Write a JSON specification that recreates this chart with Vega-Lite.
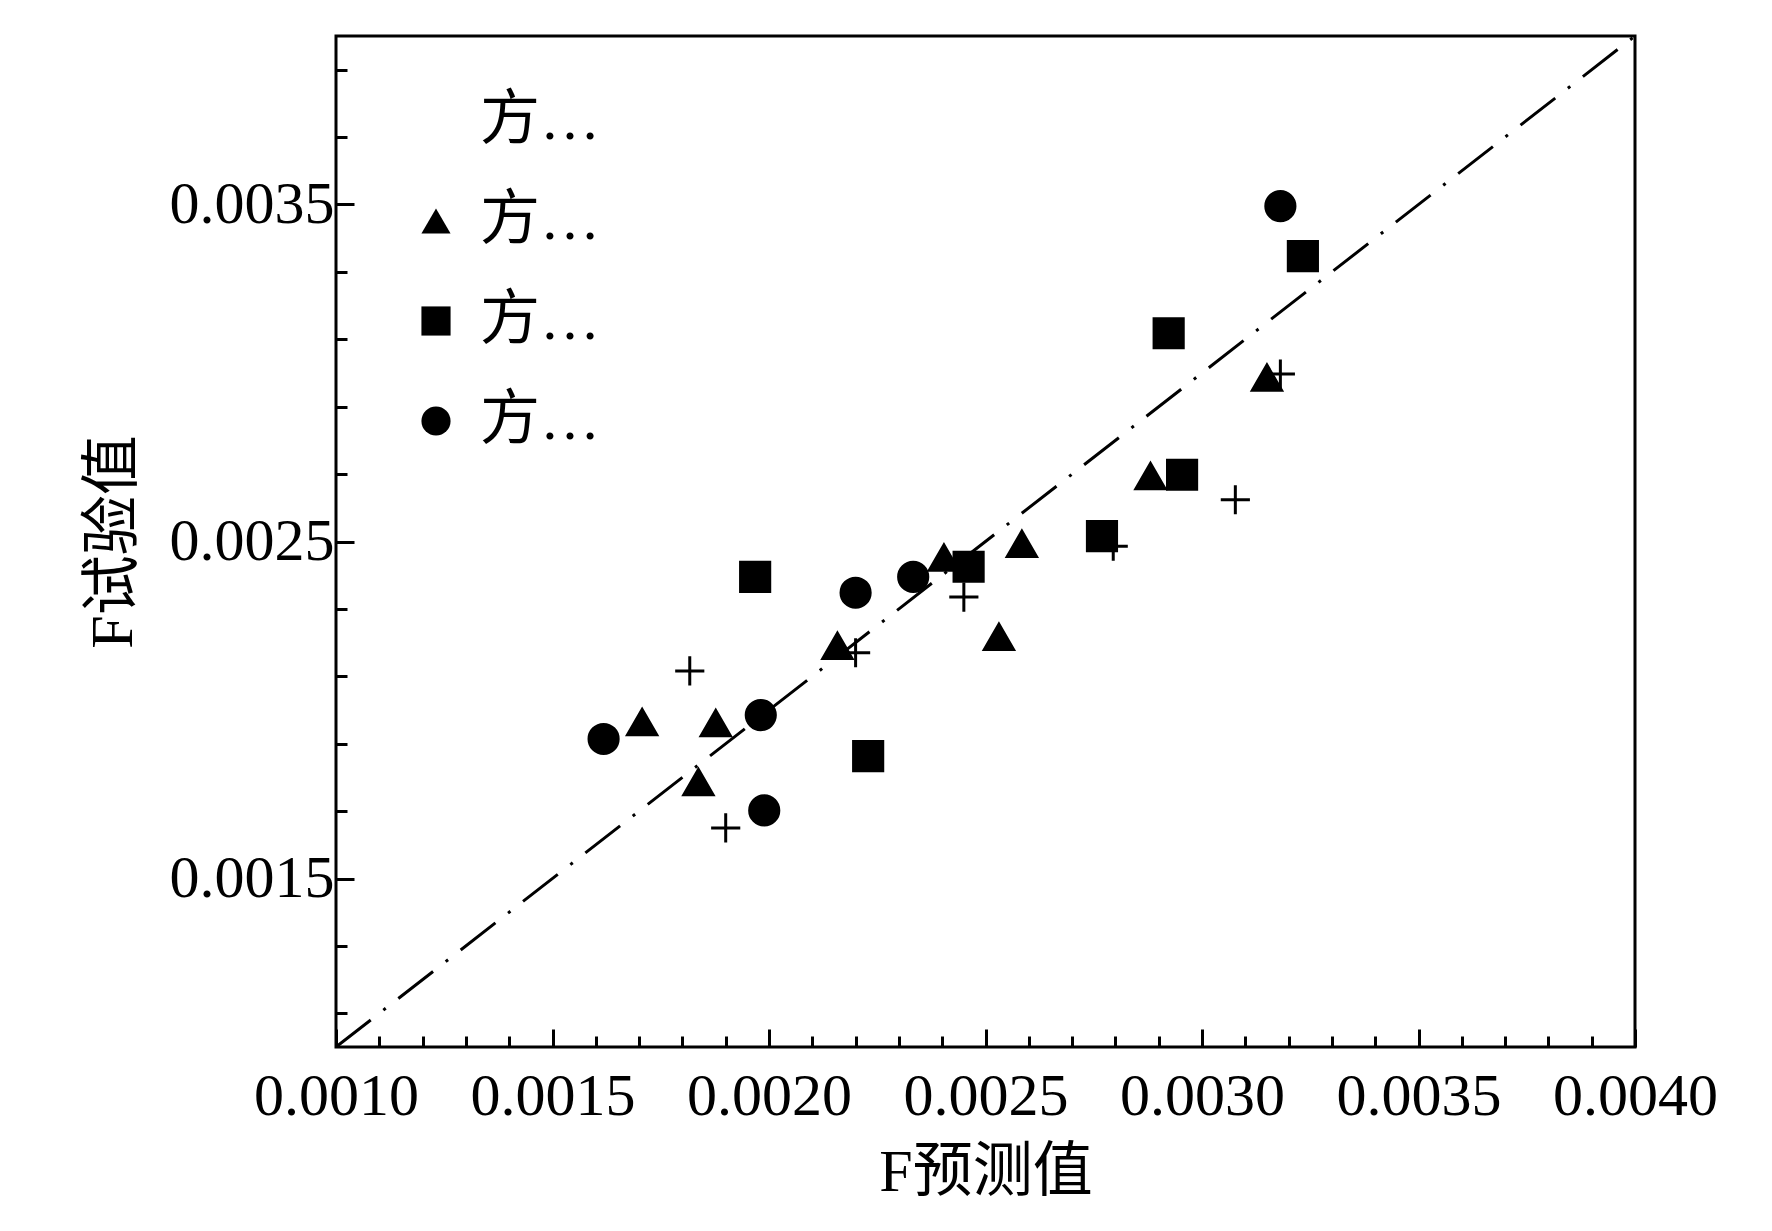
{
  "$schema": "https://vega.github.io/schema/vega-lite/v6.json",
  "width": 1299,
  "height": 1011,
  "autosize": {"type": "none"},
  "padding": {"left": 336, "top": 36, "right": 137, "bottom": 184},
  "background": "white",
  "config": {
    "font": "Liberation Serif, Noto Sans CJK SC",
    "view": {"stroke": "black", "strokeWidth": 3}
  },
  "layer": [
    {
      "data": {"values": [{"px": 0.001, "ty": 0.001}, {"px": 0.004, "ty": 0.004}]},
      "mark": {"type": "line", "color": "black", "strokeWidth": 3, "strokeDash": [44, 16, 3, 16], "clip": true},
      "encoding": {
        "x": {"field": "px", "type": "quantitative"},
        "y": {"field": "ty", "type": "quantitative"}
      }
    },
    {
      "data": {"values": [
        {"s": "方案A", "px": 0.001817, "ty": 0.002116},
        {"s": "方案A", "px": 0.0019, "ty": 0.00165},
        {"s": "方案A", "px": 0.0022, "ty": 0.00217},
        {"s": "方案A", "px": 0.00245, "ty": 0.002335},
        {"s": "方案A", "px": 0.002795, "ty": 0.002486},
        {"s": "方案A", "px": 0.003077, "ty": 0.002624},
        {"s": "方案A", "px": 0.003181, "ty": 0.002997},
        {"s": "方案B", "px": 0.001707, "ty": 0.001964},
        {"s": "方案B", "px": 0.001837, "ty": 0.001786},
        {"s": "方案B", "px": 0.001877, "ty": 0.001961},
        {"s": "方案B", "px": 0.002158, "ty": 0.00219},
        {"s": "方案B", "px": 0.002404, "ty": 0.002452},
        {"s": "方案B", "px": 0.002531, "ty": 0.002217},
        {"s": "方案B", "px": 0.002584, "ty": 0.002493},
        {"s": "方案B", "px": 0.002881, "ty": 0.002694},
        {"s": "方案B", "px": 0.00315, "ty": 0.002986},
        {"s": "方案C", "px": 0.001968, "ty": 0.002395},
        {"s": "方案C", "px": 0.002229, "ty": 0.001863},
        {"s": "方案C", "px": 0.002461, "ty": 0.002425},
        {"s": "方案C", "px": 0.002769, "ty": 0.002516},
        {"s": "方案C", "px": 0.002923, "ty": 0.003118},
        {"s": "方案C", "px": 0.002954, "ty": 0.002698},
        {"s": "方案C", "px": 0.003233, "ty": 0.003347},
        {"s": "方案D", "px": 0.001618, "ty": 0.001914},
        {"s": "方案D", "px": 0.001981, "ty": 0.001985},
        {"s": "方案D", "px": 0.001989, "ty": 0.001702},
        {"s": "方案D", "px": 0.0022, "ty": 0.002348},
        {"s": "方案D", "px": 0.002333, "ty": 0.002395},
        {"s": "方案D", "px": 0.003181, "ty": 0.003495}
      ]},
      "mark": {"type": "point", "filled": true, "fill": "black", "stroke": "black", "strokeWidth": 3, "opacity": 1, "size": 850},
      "encoding": {
        "x": {
          "field": "px", "type": "quantitative", "title": "F预测值",
          "scale": {"domain": [0.001, 0.004], "nice": false, "zero": false},
          "axis": {
            "values": [0.001, 0.0011, 0.0012, 0.0013, 0.0014, 0.0015, 0.0016, 0.0017, 0.0018, 0.0019, 0.002, 0.0021, 0.0022, 0.0023, 0.0024, 0.0025, 0.0026, 0.0027, 0.0028, 0.0029, 0.003, 0.0031, 0.0032, 0.0033, 0.0034, 0.0035, 0.0036, 0.0037, 0.0038, 0.0039, 0.004],
            "labelExpr": "abs(datum.value*2000 - round(datum.value*2000)) < 0.001 ? format(datum.value, '.4f') : ''",
            "tickSize": {"condition": {"test": "abs(datum.value*2000 - round(datum.value*2000)) < 0.001", "value": -18}, "value": -11},
            "grid": false, "domain": false, "tickColor": "black", "tickWidth": 3, "labelOverlap": false,
            "labelFontSize": 60, "labelColor": "black", "labelPadding": 38, "labelFlush": false,
            "titleFontSize": 60, "titleFontWeight": "normal", "titleColor": "black", "titlePadding": 10
          }
        },
        "y": {
          "field": "ty", "type": "quantitative", "title": "F试验值",
          "scale": {"domain": [0.001, 0.004], "nice": false, "zero": false},
          "axis": {
            "values": [0.0011, 0.0012, 0.0013, 0.0014, 0.0015, 0.0016, 0.0017, 0.0018, 0.0019, 0.002, 0.0021, 0.0022, 0.0023, 0.0024, 0.0025, 0.0026, 0.0027, 0.0028, 0.0029, 0.003, 0.0031, 0.0032, 0.0033, 0.0034, 0.0035, 0.0036, 0.0037, 0.0038, 0.0039, 0.004],
            "labelExpr": "abs(datum.value*2000 - round(datum.value*2000)) < 0.001 ? format(datum.value, '.4f') : ''",
            "tickSize": {"condition": {"test": "abs(datum.value*2000 - round(datum.value*2000)) < 0.001", "value": -18}, "value": -11},
            "grid": false, "domain": false, "tickColor": "black", "tickWidth": 3, "labelOverlap": false,
            "labelFontSize": 60, "labelColor": "black", "labelPadding": 20, "labelFlush": false,
            "titleFontSize": 60, "titleFontWeight": "normal", "titleColor": "black", "titlePadding": 25
          }
        },
        "shape": {
          "field": "s", "type": "nominal", "title": null,
          "scale": {"domain": ["方案A", "方案B", "方案C", "方案D"], "range": ["M-1,0H1M0,-1V1", "triangle-up", "square", "circle"]},
          "legend": {
            "orient": "none", "legendX": 70, "legendY": 55,
            "labelFontSize": 60, "labelColor": "black", "rowPadding": 40, "symbolSize": 850,
            "symbolFillColor": "black", "symbolStrokeColor": "black", "symbolStrokeWidth": 3, "labelOffset": 14
          }
        }
      }
    }
  ]
}
